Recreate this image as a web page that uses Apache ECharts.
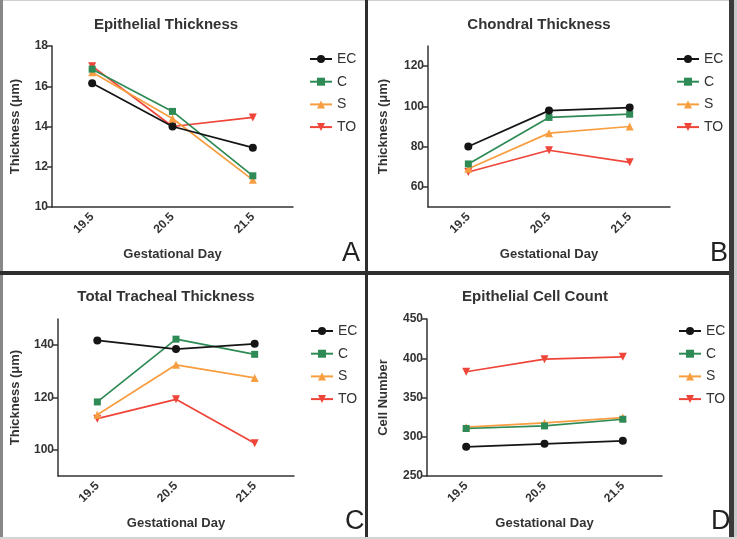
<!DOCTYPE html>
<html>
<head>
<meta charset="utf-8">
<script src="https://cdn.jsdelivr.net/npm/echarts@6/dist/echarts.min.js"></script>
<style>
  html, body { margin: 0; padding: 0; background: #fff; }
  #chart { width: 737px; height: 539px; }
</style>
</head>
<body>
<div id="chart"></div>
<script>
// categories and groups
var days = ['19.5', '20.5', '21.5'];
var groups = ['EC', 'C', 'S', 'TO'];

// A - epithelial thickness (um)
var epiEC = [16.15, 14.0, 12.95];
var epiC  = [16.85, 14.75, 11.55];
var epiS  = [16.7, 14.4, 11.35];
var epiTO = [17.0, 14.0, 14.45];

// B - chondral thickness (um)
var chonEC = [80.1, 97.9, 99.4];
var chonC  = [71.4, 94.5, 96.1];
var chonS  = [69.0, 86.7, 90.0];
var chonTO = [67.4, 78.2, 72.2];

// C - total tracheal thickness (um)
var totEC = [141.8, 138.5, 140.5];
var totC  = [118.3, 142.3, 136.5];
var totS  = [113.4, 132.5, 127.5];
var totTO = [111.9, 119.3, 102.5];

// D - epithelial cell count
var cellEC = [287.2, 291.0, 294.8];
var cellC  = [310.5, 313.8, 322.3];
var cellS  = [312.2, 317.6, 324.4];
var cellTO = [382.8, 398.8, 401.8];

var titles = ['Epithelial Thickness', 'Chondral Thickness', 'Total Tracheal Thickness', 'Epithelial Cell Count'];
var yNames = ['Thickness (\u03bcm)', 'Thickness (\u03bcm)', 'Thickness (\u03bcm)', 'Cell Number'];
var panelLetters = ['A', 'B', 'C', 'D'];

var panelData = [
  [epiEC, epiC, epiS, epiTO],
  [chonEC, chonC, chonS, chonTO],
  [totEC, totC, totS, totTO],
  [cellEC, cellC, cellS, cellTO]
];

// y ranges / tick values per panel
var yMin = [10, 50, 90, 250];
var yMax = [18, 130, 150, 450];
var yTicks = [[10, 12, 14, 16, 18], [60, 80, 100, 120], [100, 120, 140], [250, 300, 350, 400, 450]];

var colors = { EC: '#151515', C: '#2e8b55', S: '#f89e40', TO: '#ef4438' };
var symbols = {
  EC: 'circle',
  C: 'rect',
  S: 'triangle',
  TO: 'path://M0,0 L10,0 L5,9 Z'
};
var symSizes = { EC: 8, C: 7, S: 8, TO: 8 };

var fontFam = '"Liberation Sans", Arial, Helvetica, sans-serif';

var grids = [
  { left: 52, top: 46, width: 241, height: 161 },
  { left: 428, top: 46, width: 242, height: 161 },
  { left: 58, top: 319, width: 236, height: 157 },
  { left: 427, top: 319, width: 235, height: 157 }
];
var yNameGap = [30, 38, 36, 37];
var titlePos = [[161, 12], [534, 12], [161, 284], [530, 284]];
var legendPos = [[309, 52], [676, 52], [310, 324], [678, 324]];
var letterPos = [[352, 268], [720, 268], [355, 536], [721, 536]];

var myChart = echarts.init(document.getElementById('chart'), null, { renderer: 'canvas' });

var option = {
  backgroundColor: '#fff',
  animation: false,
  textStyle: { fontFamily: fontFam },
  title: [],
  legend: [],
  grid: [],
  xAxis: [],
  yAxis: [],
  series: [],
  graphic: []
};

for (var p = 0; p < 4; p++) {
  option.grid.push(grids[p]);
  option.title.push({
    text: titles[p],
    left: titlePos[p][0],
    top: titlePos[p][1],
    textAlign: 'center',
    textStyle: { fontFamily: fontFam, fontSize: 15, fontWeight: 'bold', color: '#333' }
  });
  option.legend.push({
    data: groups,
    orient: 'vertical',
    left: legendPos[p][0],
    top: legendPos[p][1],
    itemWidth: 22,
    itemHeight: 10,
    itemGap: 8.7,
    padding: 0,
    textStyle: { fontFamily: fontFam, fontSize: 14, color: '#333' }
  });
  option.xAxis.push({
    type: 'category',
    gridIndex: p,
    data: days,
    boundaryGap: true,
    name: 'Gestational Day',
    nameLocation: 'middle',
    nameGap: 41,
    nameTextStyle: { fontFamily: fontFam, fontSize: 13, fontWeight: 'bold', color: '#333' },
    axisLine: { lineStyle: { color: '#333', width: 1.5 } },
    axisTick: { alignWithLabel: true, length: 5, lineStyle: { color: '#333', width: 1.5 } },
    axisLabel: { rotate: 45, margin: 8, fontFamily: fontFam, fontSize: 12, fontWeight: 'bold', color: '#333' },
    splitLine: { show: false }
  });
  option.yAxis.push({
    type: 'value',
    gridIndex: p,
    min: yMin[p],
    max: yMax[p],
    name: yNames[p],
    nameLocation: 'middle',
    nameGap: yNameGap[p],
    nameTextStyle: { fontFamily: fontFam, fontSize: 13, fontWeight: 'bold', color: '#333' },
    axisLine: { show: true, lineStyle: { color: '#333', width: 1.5 } },
    axisTick: { show: true, length: 5, customValues: yTicks[p], lineStyle: { color: '#333', width: 1.5 } },
    axisLabel: { customValues: yTicks[p], margin: 4, fontFamily: fontFam, fontSize: 12, fontWeight: 'bold', color: '#333' },
    splitLine: { show: false }
  });
  for (var g = 0; g < groups.length; g++) {
    var name = groups[g];
    option.series.push({
      name: name,
      type: 'line',
      xAxisIndex: p,
      yAxisIndex: p,
      data: panelData[p][g],
      symbol: symbols[name],
      symbolSize: symSizes[name],
      showAllSymbol: true,
      color: colors[name],
      lineStyle: { color: colors[name], width: 1.7 },
      itemStyle: { color: colors[name] },
      z: 10 - g
    });
  }
  option.graphic.push({
    type: 'text',
    left: letterPos[p][0] - 10,
    top: letterPos[p][1] - 28,
    style: { text: panelLetters[p], font: '27px ' + fontFam, fill: '#222' }
  });
}

// panel frame lines
option.graphic.push(
  { type: 'rect', shape: { x: 0, y: 0, width: 737, height: 1 }, style: { fill: '#cfcfcf' } },
  { type: 'rect', shape: { x: 0, y: 0, width: 3, height: 539 }, style: { fill: '#888' } },
  { type: 'rect', shape: { x: 365, y: 0, width: 3, height: 539 }, style: { fill: '#2e2e2e' } },
  { type: 'rect', shape: { x: 0, y: 271, width: 737, height: 4 }, style: { fill: '#2e2e2e' } },
  { type: 'rect', shape: { x: 729, y: 0, width: 5, height: 539 }, style: { fill: '#3a3a3a' } },
  { type: 'rect', shape: { x: 734, y: 0, width: 3, height: 539 }, style: { fill: '#c8c8c8' } },
  { type: 'rect', shape: { x: 0, y: 537, width: 737, height: 2 }, style: { fill: '#d5d5d5' } }
);

myChart.setOption(option);
window.onresize = myChart.resize;
</script>
</body>
</html>
